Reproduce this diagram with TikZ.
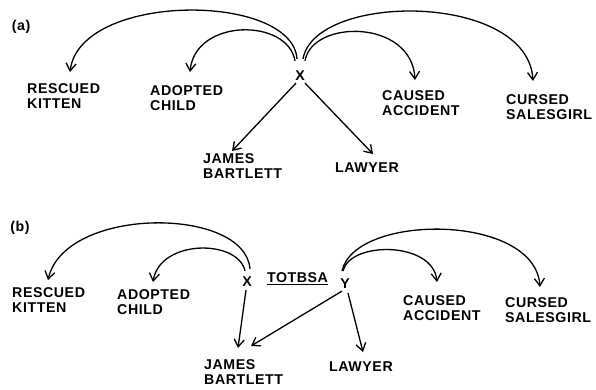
\documentclass[tikz,border=0pt]{standalone}
\usepackage{fontspec}
\setmainfont{Liberation Sans}[LetterSpace=4]
\usetikzlibrary{arrows.meta}
\begin{document}
\begin{tikzpicture}[x=1pt,y=-1pt,
  lbl/.style={anchor=north west, inner sep=0pt, align=left,
    font=\fontsize{14.2}{15}\selectfont\bfseries},
  var/.style={anchor=center, inner sep=0pt,
    font=\fontsize{14.2}{15}\selectfont\bfseries},
  link/.style={line width=1.3pt,
    -{Straight Barb[length=7.5pt,width=10pt,line width=1.3pt]}},
]
\useasboundingbox (0,0) rectangle (596,389);

% ---------- (a) ----------
\node[var] (ta) at (21,27) {(a)};
\node[var] (xa) at (300,76) {X};
\node[lbl] (rka) at (27,83) {RESCUED\\KITTEN};
\node[lbl] (aca) at (150,85) {ADOPTED\\CHILD};
\node[lbl] (jba) at (203,153) {JAMES\\BARTLETT};
\node[lbl] (lwa) at (335,163) {LAWYER};
\node[lbl] (caa) at (382,90) {CAUSED\\ACCIDENT};
\node[lbl] (csa) at (506,94) {CURSED\\SALESGIRL};

\draw[link] ([xshift=-3pt,yshift=12pt]xa.north) .. controls (292,-8) and (80,-8) .. ([xshift=43pt,yshift=11pt]rka.north west);
\draw[link] ([xshift=-5pt,yshift=10pt]xa.north) .. controls (288,18) and (195,18) .. ([xshift=40pt,yshift=13pt]aca.north west);
\draw[link] ([xshift=5pt,yshift=10pt]xa.north) .. controls (312,19) and (412,19) .. ([xshift=33pt,yshift=10pt]caa.north west);
\draw[link] ([xshift=3pt,yshift=12pt]xa.north) .. controls (315,-8) and (528,-8) .. ([xshift=27pt,yshift=13pt]csa.north west);
\draw[link] ([xshift=-4pt,yshift=-2pt]xa.south) -- ([xshift=29pt,yshift=2pt]jba.north west);
\draw[link] ([xshift=5pt,yshift=-2pt]xa.south) -- ([xshift=38pt,yshift=9pt]lwa.north west);

% ---------- (b) ----------
\node[var] (tb) at (20,228) {(b)};
\node[var] (xb) at (247,282) {X};
\node[var] (yb) at (345,284) {Y};
\node[var] (tot) at (297.5,279) {\underline{TOTBSA}};
\node[lbl] (rkb) at (12,287) {RESCUED\\KITTEN};
\node[lbl] (acb) at (117,289) {ADOPTED\\CHILD};
\node[lbl] (jbb) at (204,359) {JAMES\\BARTLETT};
\node[lbl] (lwb) at (329,362) {LAWYER};
\node[lbl] (cab) at (403,295) {CAUSED\\ACCIDENT};
\node[lbl] (csb) at (505,297) {CURSED\\SALESGIRL};

\draw[link] ([xshift=3pt,yshift=8pt]xb.north) .. controls (245,206) and (65,206) .. ([xshift=36pt,yshift=7pt]rkb.north west);
\draw[link] ([xshift=-2pt,yshift=6pt]xb.north) .. controls (238,239) and (160,239) .. ([xshift=36pt,yshift=7pt]acb.north west);
\draw[link] ([xshift=-2pt,yshift=8pt]yb.north) .. controls (350,241) and (433,241) .. ([xshift=34pt,yshift=13pt]cab.north west);
\draw[link] ([xshift=-3pt,yshift=8pt]yb.north) .. controls (355,213) and (535,213) .. ([xshift=35pt,yshift=10pt]csb.north west);
\draw[link] ([xshift=-1pt,yshift=-3pt]xb.south) -- ([xshift=34pt,yshift=11pt]jbb.north west);
\draw[link] ([xshift=-3pt,yshift=-2pt]yb.south) -- ([xshift=47pt,yshift=13pt]jbb.north west);
\draw[link] ([xshift=3pt,yshift=-4pt]yb.south) -- ([xshift=34pt,yshift=10pt]lwb.north west);
\end{tikzpicture}
\end{document}
